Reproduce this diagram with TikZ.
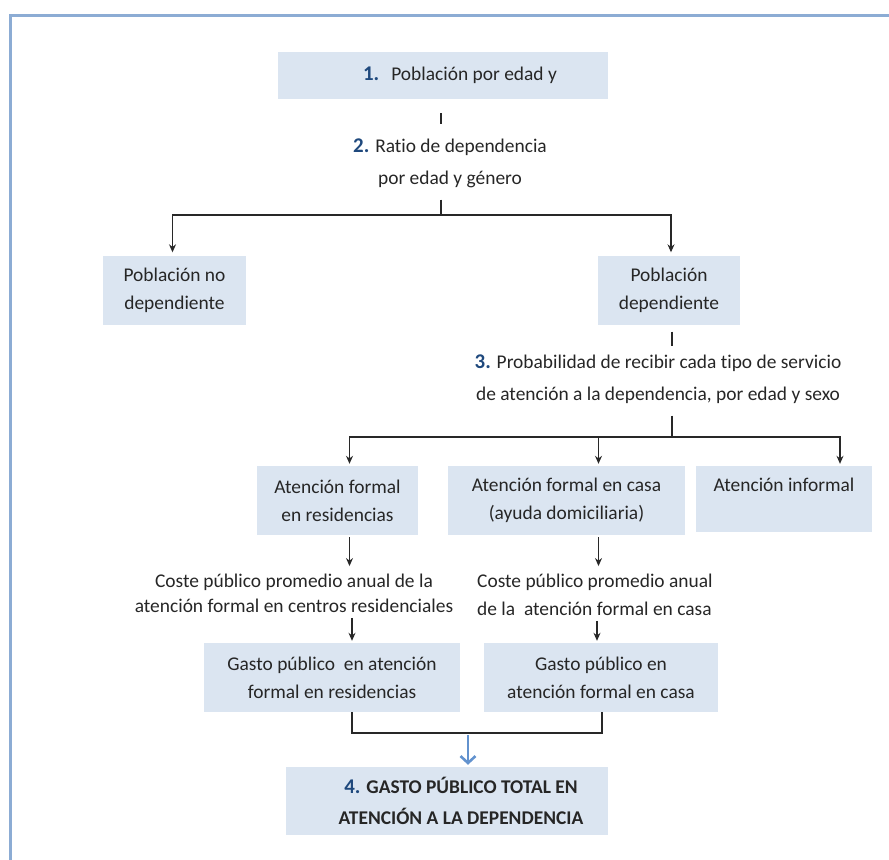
\documentclass[tikz,border=0pt]{standalone}
\usepackage{fontspec}
\setmainfont[Ligatures=NoCommon]{Carlito}
\usetikzlibrary{arrows.meta,positioning,calc}
\definecolor{boxfill}{RGB}{219,229,241}
\definecolor{numblue}{RGB}{31,73,125}
\definecolor{framecol}{RGB}{140,172,212}
\definecolor{sumarrow}{RGB}{98,146,206}
\definecolor{linegray}{RGB}{40,40,40}
\newcommand{\paso}[1]{{\fontsize{21}{24}\selectfont\bfseries\color{numblue}#1}}

\begin{document}
\begin{tikzpicture}[
  x=1bp, y=-1bp,
  every node/.style={font=\fontsize{19.5}{28}\selectfont, text=black!85},
  box/.style={fill=boxfill, minimum height=69bp, align=center, inner sep=0pt},
  lbl/.style={align=center, inner sep=0pt},
  conn/.style={linegray, line width=1.1pt},
  >={Stealth[length=8pt,width=7pt]}
]
\useasboundingbox (0,0) rectangle (889,860);

% marco
\draw[framecol, line width=3bp] (10,900) -- (10,15) -- (900,15);

% paso 1 y 2
\node[box, minimum width=330bp, minimum height=47bp] (pob) at (443,75.5)
  {\hspace*{34bp}\paso{1.}\hspace{12bp}Población por edad y};
\node[lbl] (ratio) at (450,163) {\paso{2.} Ratio de dependencia\\[4bp]por edad y género};

\node[box, minimum width=143bp] (nodep) at (174.5,290) {Población no\\dependiente};
\node[box, minimum width=142bp] (dep) at (669,290) {Población\\dependiente};

% paso 3
\node[lbl] (prob) at (658,379)
  {\paso{3.} Probabilidad de recibir cada tipo de servicio\\[4bp]de atención a la dependencia, por edad y sexo};

\node[box, minimum width=161bp] (resid) at (337.5,500.5) {Atención formal\\en residencias};
\node[box, minimum width=237bp] (casa) at (566.5,500.5) {Atención formal en casa\\(ayuda domiciliaria)};
\node[box, minimum width=176bp, minimum height=66bp] (informal) at (784,499) {Atención informal\\\mbox{}};

\node[lbl] (costres) at (294,593.5)
  {Coste público promedio anual de la\\[-3bp]atención formal en centros residenciales};
\node[lbl, align=left, anchor=west] (costcasa) at (477,595)
  {Coste público promedio anual\\de la\ \ atención formal en casa};

\node[box, minimum width=256bp] (gastres) at (332,677.5) {Gasto público\ \ en atención\\formal en residencias};
\node[box, minimum width=234bp] (gastcasa) at (601,677.5) {Gasto público en\\atención formal en casa};

% paso 4
\node[box, minimum width=322bp, minimum height=68bp, font=\fontsize{19.5}{31}\selectfont\bfseries] (total) at (447,801)
  {\hspace*{28bp}\paso{4.} GASTO PÚBLICO TOTAL EN\\\hspace*{28bp}ATENCIÓN A LA DEPENDENCIA};

% conectores
\coordinate (fork1) at (441,215);
\coordinate (fork2) at (672,437);
\coordinate (merge) at (468,733);

\draw[conn, shorten <=14bp, shorten >=14bp] (pob.south -| fork1) -- (ratio.north -| fork1);
\draw[conn, shorten <=12bp] (ratio.south -| fork1) -- (fork1);
\draw[conn, ->, shorten >=3bp] (fork1) -| ([xshift=-2bp]nodep.north);
\draw[conn, ->, shorten >=3bp] (fork1) -| ([xshift=2bp]dep.north);

\draw[conn, shorten <=7bp, shorten >=8bp] (dep.south -| fork2) -- (prob.north -| fork2);
\draw[conn, shorten <=12bp] (prob.south -| fork2) -- (fork2);
\draw[conn, ->, shorten >=2bp] (fork2) -| ([xshift=12bp]resid.north);
\draw[conn, ->, shorten >=2bp] (fork2) -| ([xshift=32bp]casa.north);
\draw[conn, ->, shorten >=2bp] (fork2) -| ([xshift=56bp]informal.north);

\draw[conn, ->, shorten <=2bp, shorten >=8bp] ([xshift=12bp]resid.south) -- ([xshift=12bp]resid.south |- costres.north);
\draw[conn, ->, shorten <=2bp, shorten >=8bp] ([xshift=32bp]casa.south) -- ([xshift=32bp]casa.south |- costcasa.north);
\draw[conn, ->, shorten <=5bp, shorten >=2bp] ([xshift=20bp]gastres.north |- costres.south) -- ([xshift=20bp]gastres.north);
\draw[conn, ->, shorten <=5bp, shorten >=2bp] ([xshift=-4bp]gastcasa.north |- costcasa.south) -- ([xshift=-4bp]gastcasa.north);

\draw[conn] ([xshift=20bp]gastres.south) |- (merge) -| ([xshift=1bp]gastcasa.south);
\draw[sumarrow, line width=2.6pt, -{Straight Barb[length=7pt,width=15pt]}, shorten >=2bp] ([yshift=-2bp]merge) -- (total.north -| merge);

\end{tikzpicture}
\end{document}
